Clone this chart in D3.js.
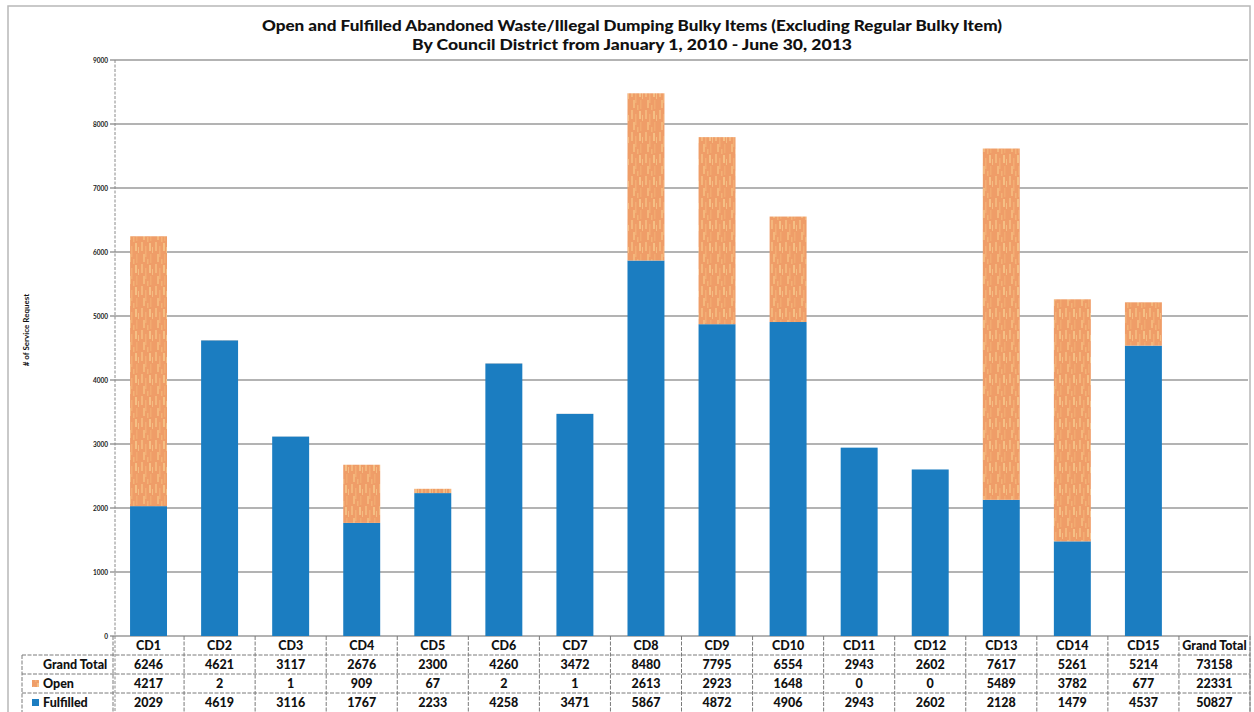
<!DOCTYPE html>
<html>
<head>
<meta charset="utf-8">
<script src="https://cdn.jsdelivr.net/npm/d3@7"></script>
<style>
  html, body { margin: 0; padding: 0; background: #fff; }
  svg { display: block; }
  text { font-family: Lato, "Open Sans", "Liberation Sans", sans-serif; }
</style>
</head>
<body>
<svg id="chart" width="1254" height="712"></svg>
<script>
// Council districts plus the table-only total column
const districts = ["CD1","CD2","CD3","CD4","CD5","CD6","CD7","CD8","CD9","CD10","CD11","CD12","CD13","CD14","CD15"];
const totalLabel = "Grand Total";
const fulfilled = [2029,4619,3116,1767,2233,4258,3471,5867,4872,4906,2943,2602,2128,1479,4537];
const open      = [4217,2,1,909,67,2,1,2613,2923,1648,0,0,5489,3782,677];
const grandTotal = [6246,4621,3117,2676,2300,4260,3472,8480,7795,6554,2943,2602,7617,5261,5214];
const totalsRow = { total: 73158, open: 22331, fulfilled: 50827 };
const yTicks = [0,1000,2000,3000,4000,5000,6000,7000,8000,9000];
const titleLines = [
  "Open and Fulfilled Abandoned Waste/Illegal Dumping Bulky Items (Excluding Regular Bulky Item)",
  "By Council District from January 1, 2010 - June 30, 2013"
];
const yTitle = "# of Service Request";

const svg = d3.select("#chart");
const blue = "#1b7dc1";

// speckled orange fill for open requests
const defs = svg.append("defs");
const pat = defs.append("pattern").attr("id", "openFill")
  .attr("patternUnits", "userSpaceOnUse").attr("width", 14).attr("height", 22);
pat.append("rect").attr("width", 14).attr("height", 22).attr("fill", "#ef9d68");
[[1,0,2,9,"#f4b67c"],[5,4,1.5,11,"#f3ae74"],[9,1,2,8,"#f5bf84"],[3,12,2,8,"#f4b77c"],[10,12,1.5,9,"#f2aa70"],[12,5,1,6,"#f5bc82"],[7,17,1.5,5,"#f3b276"]]
  .forEach(([x,y,w,h,c]) => pat.append("rect").attr("x",x).attr("y",y).attr("width",w).attr("height",h).attr("fill",c));

// outer chart border
svg.append("path").attr("d", "M8,712 V6 H1250 V712")
  .attr("fill", "none").attr("stroke", "#b8b8b8").attr("stroke-width", 1.5);

// scales
const x = d3.scaleBand().domain([...districts, totalLabel]).range([113, 1250]).padding(0);
const y = d3.scaleLinear().domain([0, 9000]).range([636, 60]);
const barW = x.bandwidth() * 0.52;

// horizontal gridlines
svg.append("g").selectAll("line").data(yTicks).join("line")
  .attr("x1", 110).attr("x2", 1248)
  .attr("y1", d => y(d)).attr("y2", d => y(d))
  .attr("stroke", "#9a9a9a").attr("stroke-width", 1.3);

// y axis labels
const yAxis = d3.axisLeft(y).tickValues(yTicks).tickSize(0).tickPadding(0).tickFormat(d3.format("d"));
const ya = svg.append("g").attr("transform", "translate(108,0)").call(yAxis);
ya.select(".domain").remove();
ya.selectAll("text").attr("font-size", 6.5).attr("font-weight", "bold").attr("fill", "#222")
  .attr("font-family", "Lato, sans-serif");

// axis line
svg.append("line").attr("x1", 115).attr("x2", 115).attr("y1", 60).attr("y2", 712)
  .attr("stroke", "#8a8a8a").attr("stroke-width", 1).attr("stroke-dasharray", "3,1.5");

// y axis title
svg.append("text").attr("transform", "translate(29,330) rotate(-90)")
  .attr("text-anchor", "middle").attr("font-size", 8).attr("font-weight", "bold")
  .attr("fill", "#111").text(yTitle);

// stacked bars
const bars = svg.append("g");
districts.forEach((d, i) => {
  const cx = x(d) + x.bandwidth() / 2;
  bars.append("rect").attr("x", cx - barW / 2).attr("width", barW)
    .attr("y", y(fulfilled[i])).attr("height", y(0) - y(fulfilled[i]))
    .attr("fill", blue);
  if (open[i] > 0) {
    bars.append("rect").attr("x", cx - barW / 2).attr("width", barW)
      .attr("y", y(fulfilled[i] + open[i])).attr("height", y(fulfilled[i]) - y(fulfilled[i] + open[i]))
      .attr("fill", "url(#openFill)");
  }
});

// title
titleLines.forEach((t, i) => {
  svg.append("text").attr("x", 632).attr("y", 31 + i * 19)
    .attr("text-anchor", "middle").attr("font-size", 15).attr("font-weight", 900)
    .attr("fill", "#111").text(t)
    .attr("textLength", i === 0 ? 740 : 440).attr("lengthAdjust", "spacingAndGlyphs");
});

// data table
const rowTops = [636, 655, 674, 693, 712];
const table = svg.append("g");
const lineStyle = sel => sel.attr("stroke", "#7a7a7a").attr("stroke-width", 1).attr("stroke-dasharray", "4,1.5");
// horizontal rules
rowTops.slice(1, 4).forEach(r => lineStyle(table.append("line").attr("x1", 22).attr("x2", 1250).attr("y1", r).attr("y2", r)));
// vertical rules
x.domain().forEach(d => lineStyle(table.append("line").attr("x1", x(d)).attr("x2", x(d)).attr("y1", 636).attr("y2", 712)));
lineStyle(table.append("line").attr("x1", 1250).attr("x2", 1250).attr("y1", 636).attr("y2", 712));
lineStyle(table.append("line").attr("x1", 22).attr("x2", 22).attr("y1", 655).attr("y2", 712));

const cellText = (cx, row, txt) => table.append("text")
  .attr("x", cx).attr("y", (rowTops[row] + rowTops[row + 1]) / 2 + 4.5)
  .attr("text-anchor", "middle").attr("font-size", 12.5).attr("font-weight", 900)
  .attr("fill", "#111").text(txt);

x.domain().forEach((d, i) => {
  const cx = x(d) + x.bandwidth() / 2;
  cellText(cx, 0, d);
  if (i < districts.length) {
    cellText(cx, 1, grandTotal[i]);
    cellText(cx, 2, open[i]);
    cellText(cx, 3, fulfilled[i]);
  } else {
    cellText(cx, 1, totalsRow.total);
    cellText(cx, 2, totalsRow.open);
    cellText(cx, 3, totalsRow.fulfilled);
  }
});

// row headers with legend keys
const rowHeads = [["Grand Total", null], ["Open", "url(#openFill)"], ["Fulfilled", blue]];
rowHeads.forEach(([label, key], j) => {
  const mid = (rowTops[j + 1] + rowTops[j + 2]) / 2;
  if (key) table.append("rect").attr("x", 32).attr("y", mid - 3.5).attr("width", 7).attr("height", 7).attr("fill", key);
  table.append("text").attr("x", 43).attr("y", mid + 4.5)
    .attr("font-size", 12.5).attr("font-weight", 900).attr("fill", "#111").text(label);
});
</script>
</body>
</html>
